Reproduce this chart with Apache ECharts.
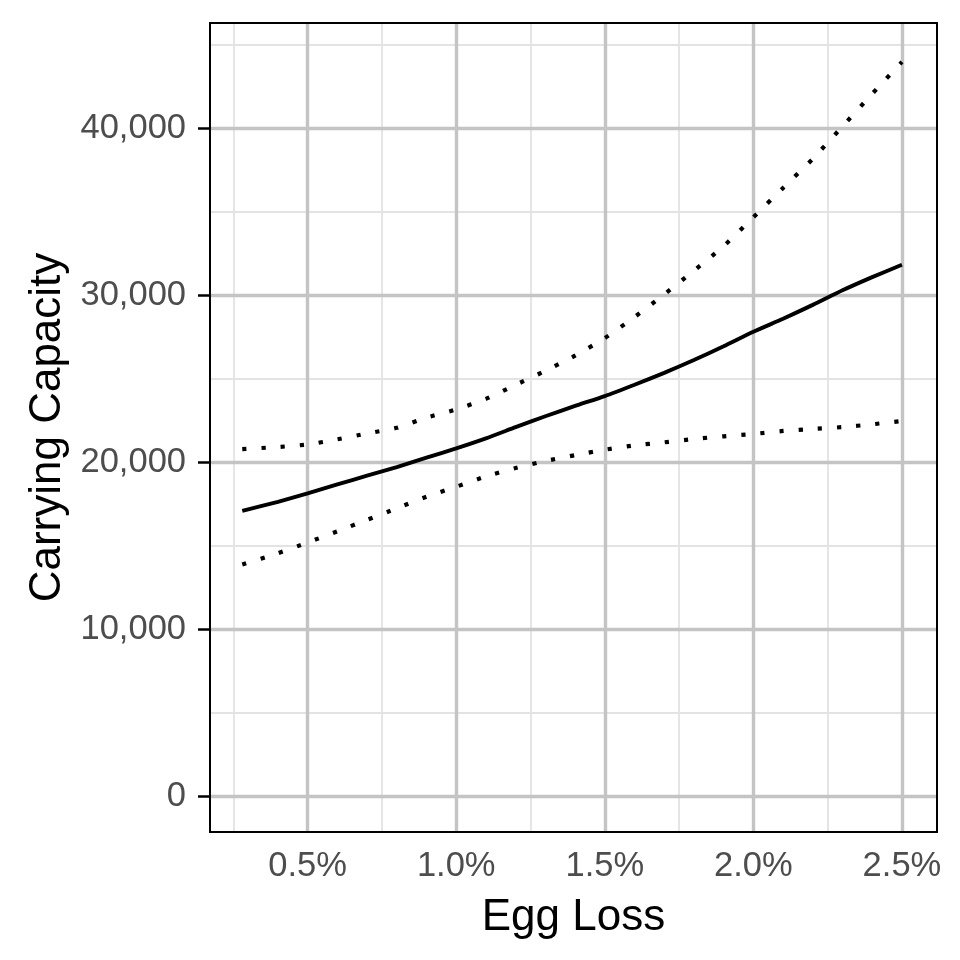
<!DOCTYPE html>
<html><head><meta charset="utf-8">
<script src="https://cdn.jsdelivr.net/npm/echarts@6/dist/echarts.min.js"></script>
<style>html,body{margin:0;padding:0;background:#fff}#c{width:960px;height:960px}</style>
</head><body><div id="c"></div>
<script>
// Egg loss (%) and carrying capacity estimates
const eggLoss = [0.28, 0.4, 0.5, 0.6, 0.7, 0.8, 0.9, 1.0, 1.1, 1.2, 1.3, 1.4, 1.5, 1.6, 1.7, 1.8, 1.9, 2.0, 2.1, 2.2, 2.3, 2.4, 2.5];
const kMean  = [17110, 17660, 18170, 18700, 19220, 19740, 20300, 20860, 21460, 22130, 22780, 23400, 23990, 24670, 25380, 26150, 26970, 27840, 28620, 29450, 30320, 31110, 31850];
const kUpper = [20810, 20940, 21090, 21400, 21750, 22090, 22700, 23190, 23820, 24660, 25500, 26410, 27460, 28720, 30080, 31500, 32970, 34700, 36450, 38200, 40140, 42090, 44000];
const kLower = [13900, 14580, 15220, 15890, 16580, 17270, 17960, 18560, 19180, 19680, 20100, 20450, 20780, 21040, 21220, 21420, 21580, 21720, 21900, 22020, 22130, 22300, 22500];

const xTicks = [0.5, 1.0, 1.5, 2.0, 2.5];
const xMinorTicks = [0.25, 0.75, 1.25, 1.75, 2.25];
const yTicks = [0, 10000, 20000, 30000, 40000];
const yMinorTicks = [5000, 15000, 25000, 35000, 45000];

const FONT = "'Liberation Sans', Arial, sans-serif";
const zip = (xs, ys) => xs.map((x, i) => [x, ys[i]]);

function gridLines(xs, ys, color, width) {
  return {
    silent: true, symbol: ['none', 'none'], animation: false,
    label: { show: false }, emphasis: { disabled: true },
    lineStyle: { color: color, width: width, type: 'solid' },
    data: xs.map(v => ({ xAxis: v })).concat(ys.map(v => ({ yAxis: v })))
  };
}

const chart = echarts.init(document.getElementById('c'), null, { renderer: 'canvas' });
chart.setOption({
  animation: false,
  backgroundColor: '#ffffff',
  grid: { left: 210, top: 23, width: 727, height: 809, show: true, borderColor: '#000', borderWidth: 2, backgroundColor: 'transparent', z: 10 },
  xAxis: {
    type: 'value', min: 0.1714, max: 2.618,
    name: 'Egg Loss', nameLocation: 'middle', nameGap: 64,
    nameTextStyle: { fontFamily: FONT, fontSize: 44, color: '#000' },
    axisLine: { show: false },
    axisTick: { show: true, customValues: xTicks, length: 12, lineStyle: { color: '#000', width: 2.5 } },
    axisLabel: { customValues: xTicks, margin: 17, fontFamily: FONT, fontSize: 34.5, color: '#4d4d4d',
      formatter: v => v.toFixed(1) + '%' },
    splitLine: { show: false }
  },
  yAxis: {
    type: 'value', min: -2114, max: 46329,
    name: 'Carrying Capacity', nameLocation: 'middle', nameGap: 135,
    nameTextStyle: { fontFamily: FONT, fontSize: 44, color: '#000' },
    axisLine: { show: false },
    axisTick: { show: true, customValues: yTicks, length: 12, lineStyle: { color: '#000', width: 2.5 } },
    axisLabel: { customValues: yTicks, margin: 24, fontFamily: FONT, fontSize: 34.5, color: '#4d4d4d',
      padding: [5, 0, 0, 0],
      formatter: v => v.toLocaleString('en-US') },
    splitLine: { show: false }
  },
  series: [
    { type: 'line', z: 1, data: zip(eggLoss, kLower), symbol: 'none', lineStyle: { opacity: 0 }, silent: true,
      markLine: gridLines(xMinorTicks, yMinorTicks, '#e3e3e3', 1.8) },
    { type: 'line', z: 2, data: zip(eggLoss, kLower), symbol: 'none', lineStyle: { opacity: 0 }, silent: true,
      markLine: gridLines(xTicks, yTicks, '#c4c4c4', 3.4) },
    { type: 'line', z: 5, data: zip(eggLoss, kUpper), symbol: 'none', smooth: 0.2,
      lineStyle: { color: '#000', width: 4.2, type: [4.2, 15], cap: 'butt' } },
    { type: 'line', z: 5, data: zip(eggLoss, kLower), symbol: 'none', smooth: 0.2,
      lineStyle: { color: '#000', width: 4.2, type: [4.2, 15], cap: 'butt' } },
    { type: 'line', z: 5, data: zip(eggLoss, kMean), symbol: 'none', smooth: 0.2,
      lineStyle: { color: '#000', width: 3.9, type: 'solid' } }
  ]
});
</script>
</body></html>
